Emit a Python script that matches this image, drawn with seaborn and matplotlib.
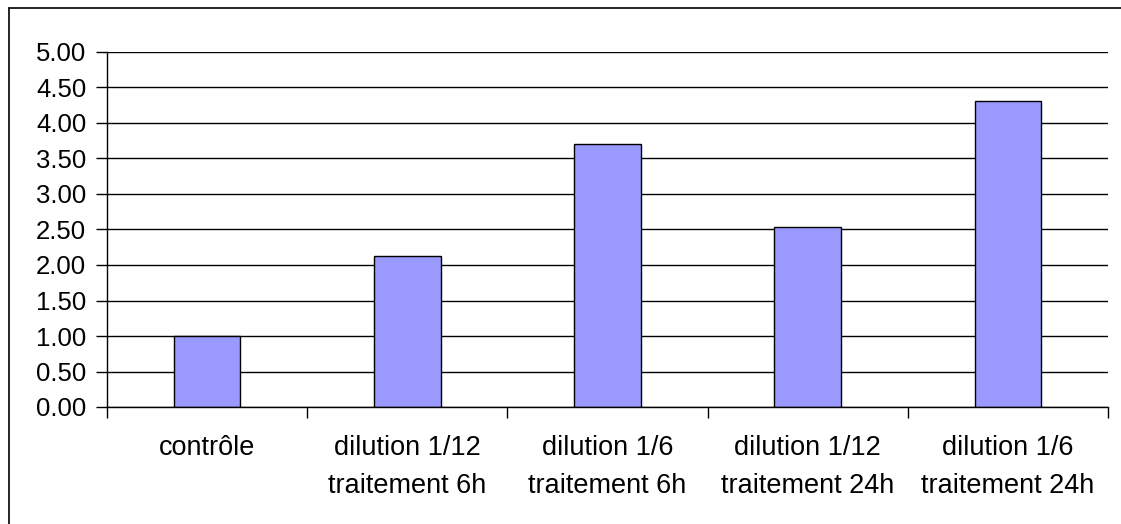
import matplotlib
matplotlib.use("Agg")
import matplotlib.pyplot as plt
import seaborn as sns
from matplotlib.lines import Line2D

# data
categories = ["contrôle", "dilution 1/12\ntraitement 6h", "dilution 1/6\ntraitement 6h",
              "dilution 1/12\ntraitement 24h", "dilution 1/6\ntraitement 24h"]
values = [1.00, 2.13, 3.70, 2.54, 4.31]
y_ticks = [0, 0.5, 1.0, 1.5, 2.0, 2.5, 3.0, 3.5, 4.0, 4.5, 5.0]

sns.set_style("white")
plt.rcParams['font.family'] = ['Liberation Sans', 'DejaVu Sans']

W, H = 1121, 524
fig = plt.figure(figsize=(W / 100, H / 100), dpi=100)
ax = fig.add_axes([107 / W, 1 - 407 / H, (1108 - 107) / W, (407 - 52) / H])

sns.barplot(x=categories, y=values, color="#9999FF", edgecolor="black",
            linewidth=1, width=1 / 3, saturation=1, ax=ax)

ax.set_xlim(-0.5, len(categories) - 0.5)
ax.set_ylim(0, 5)
ax.set_yticks(y_ticks)
ax.set_yticklabels([f"{v:.2f}" for v in y_ticks])
ax.yaxis.grid(True, color="black", linewidth=1)
ax.set_axisbelow(True)

# tick marks between categories, labels at centres
ax.set_xticks([i - 0.5 for i in range(len(categories) + 1)], minor=True)
ax.tick_params(axis="x", which="minor", bottom=True, length=8, width=1, color="black", direction="out")
ax.tick_params(axis="x", which="major", bottom=True, length=0, pad=20.5, labelsize=19.5, labelcolor="black")
ax.tick_params(axis="y", left=True, length=8, width=1, color="black", direction="out", pad=7,
               labelsize=18.5, labelcolor="black")
for lbl in ax.get_xticklabels():
    lbl.set_linespacing(1.56)

for s in ["top", "right"]:
    ax.spines[s].set_visible(False)
for s in ["left", "bottom"]:
    ax.spines[s].set_color("black")
    ax.spines[s].set_linewidth(1)
ax.set_xlabel("")
ax.set_ylabel("")

# outer chart border (clipped at right and bottom)
fig.add_artist(Line2D([9 / W, 9 / W], [0, 1 - 8 / H], color="black", lw=1.2, transform=fig.transFigure))
fig.add_artist(Line2D([9 / W, 1], [1 - 8 / H, 1 - 8 / H], color="black", lw=1.2, transform=fig.transFigure))

fig.savefig("out.png", dpi=100)
